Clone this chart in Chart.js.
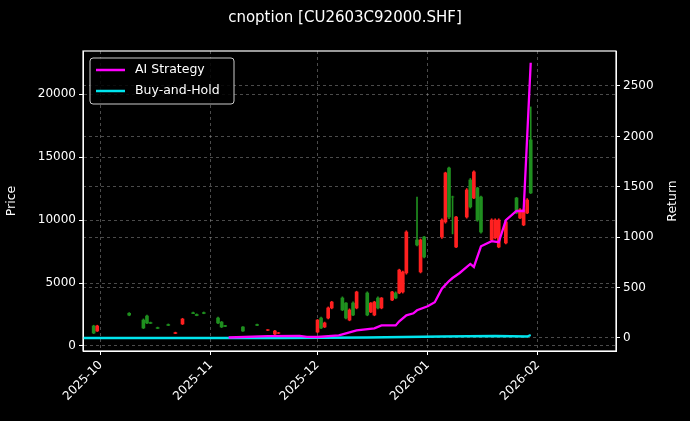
<!DOCTYPE html>
<html><head><meta charset="utf-8">
<script src="https://cdn.jsdelivr.net/npm/chart.js@4.4.1/dist/chart.umd.min.js"></script>
<style>html,body{margin:0;background:#000;}#wrap{width:690px;height:421px;}</style>
</head><body><div id="wrap"><canvas id="c"></canvas></div>
<script>
const candleDates = ["2025-09-29","2025-09-30","2025-10-09","2025-10-13","2025-10-14","2025-10-15","2025-10-17","2025-10-20","2025-10-22","2025-10-24","2025-10-27","2025-10-28","2025-10-30","2025-11-03","2025-11-04","2025-11-05","2025-11-10","2025-11-14","2025-11-17","2025-11-19","2025-11-20","2025-12-01","2025-12-02","2025-12-03","2025-12-04","2025-12-05","2025-12-08","2025-12-09","2025-12-10","2025-12-11","2025-12-12","2025-12-15","2025-12-16","2025-12-17","2025-12-18","2025-12-19","2025-12-22","2025-12-23","2025-12-24","2025-12-25","2025-12-26","2025-12-29","2025-12-30","2025-12-31","2026-01-05","2026-01-06","2026-01-07","2026-01-08","2026-01-09","2026-01-12","2026-01-13","2026-01-14","2026-01-15","2026-01-16","2026-01-19","2026-01-20","2026-01-21","2026-01-23","2026-01-26","2026-01-27","2026-01-28","2026-01-29","2026-01-30"];
const opens  = [1030,1590,2450,1430,1830,1800,1400,1640,1060,2140,2580,2420,2590,1830,1510,1560,1190,1640,1290,1190,1050,2060,1430,1830,3020,3490,2860,2220,2860,2460,4290,2460,3410,3490,3020,3810,4290,3810,6030,5880,9050,8020,8420,7070,10000,13740,10240,11830,10240,12390,11040,13820,10000,9050,10000,10000,10000,9850,10560,10800,10800,11590,12150];
const closes = [1590,1190,2600,2060,2380,1860,1460,1700,1000,1750,2640,2500,2650,2220,1900,1620,1510,1700,1250,950,1010,1110,2220,1510,2220,3020,3810,3410,2060,3410,3020,4210,2700,2460,3810,3020,3650,4210,4210,4290,5800,8420,5880,8650,8650,9850,14130,11830,7860,10240,13180,11750,12550,11830,8420,8580,7860,8180,11750,10160,9610,10560,16360];
const highs  = [1650,1650,2650,2150,2450,1900,1500,1750,1100,2200,2700,2550,2700,2300,1950,1650,1550,1750,1300,1250,1080,2100,2300,1900,3100,3550,3900,3450,2950,3500,4350,4300,3450,3550,3900,3850,4350,4300,6100,5950,9150,11830,8500,8700,10100,13800,14200,11900,10300,12500,13300,13900,12600,11900,10100,10100,10100,9950,11800,10900,10900,11700,18980];
const lows   = [980,1150,2400,1380,1780,1780,1380,1620,980,1700,2560,2400,2560,1780,1460,1540,1150,1620,1220,900,980,1050,1380,1460,2150,2950,2800,2150,2000,2400,2950,2400,2650,2400,2950,2950,3600,3750,4150,4200,5700,7950,5800,7000,8550,9750,10100,8900,7800,10150,10950,11700,9900,8950,8350,8500,7800,8100,10500,10100,9550,10500,12100];
const stratDates = ["2025-11-06","2025-11-17","2025-11-26","2025-11-28","2025-12-01","2025-12-07","2025-12-10","2025-12-12","2025-12-17","2025-12-19","2025-12-23","2025-12-24","2025-12-26","2025-12-28","2025-12-29","2026-01-01","2026-01-03","2026-01-05","2026-01-07","2026-01-08","2026-01-10","2026-01-13","2026-01-14","2026-01-16","2026-01-19","2026-01-21","2026-01-23","2026-01-26","2026-01-28","2026-01-30"];
const stratReturns = [5,18,22,12,10,25,55,75,95,125,125,165,225,245,275,315,355,490,565,595,645,735,705,910,960,950,1170,1260,1260,2730];
const bhDates = ["2025-09-26","2025-11-20","2025-12-15","2026-01-05","2026-01-20","2026-01-29","2026-01-30"];
const bhReturns = [0,0,5,15,20,15,30];
const monthTicks = ["2025-10-01","2025-11-01","2025-12-01","2026-01-01","2026-02-01"];
const xMinDate = "2025-09-26", xMaxDate = "2026-02-23";

const t = s => Date.parse(s + "T00:00:00Z");
const up = i => closes[i] >= opens[i];
const colors = candleDates.map((d,i)=> up(i) ? '#1f8f1f' : '#ff2020');
const bodies = candleDates.map((d,i)=>({x:t(d), y:[opens[i], closes[i]]}));
const wicks = candleDates.map((d,i)=>({x:t(d), y:[lows[i], highs[i]]}));
const FONT = "'DejaVu Sans', sans-serif";
const grid = {color:'rgba(150,150,150,0.5)', tickColor:'#fff', tickLength:4, drawTicks:true, offset:false};
const border = {color:'#fff', dash:[3,3]};

const deco = {
  id:'deco',
  afterDraw(ch){
    const c = ch.ctx, a = ch.chartArea;
    c.save();
    c.strokeStyle='#fff'; c.lineWidth=1.2; c.setLineDash([]);
    c.strokeRect(a.left, a.top, a.right-a.left, a.bottom-a.top);
    c.fillStyle='#fff'; c.font="15px "+FONT; c.textAlign='center'; c.textBaseline='middle';
    c.fillText('cnoption [CU2603C92000.SHF]', 345, 18);
    c.save(); c.translate(673, (a.top+a.bottom)/2); c.rotate(-Math.PI/2);
    c.font="12.5px "+FONT; c.fillText('Return', 0, 0); c.restore();
    const lx=a.left+7, ly=a.top+7;
    c.fillStyle='rgba(0,0,0,0.85)'; c.strokeStyle='#ccc'; c.lineWidth=1;
    c.beginPath(); c.roundRect(lx, ly, 144, 46, 3); c.fill(); c.stroke();
    c.lineWidth=2.5;
    c.strokeStyle='#ff00ff'; c.beginPath(); c.moveTo(lx+6, ly+12); c.lineTo(lx+35, ly+12); c.stroke();
    c.strokeStyle='#00e5ee'; c.beginPath(); c.moveTo(lx+6, ly+33); c.lineTo(lx+35, ly+33); c.stroke();
    c.fillStyle='#fff'; c.font="12.5px "+FONT; c.textAlign='left';
    c.fillText('AI Strategy', lx+45, ly+12);
    c.fillText('Buy-and-Hold', lx+45, ly+33);
    c.restore();
  }
};

new Chart(document.getElementById('c'), {
  type:'bar',
  data:{datasets:[
    {type:'line', label:'AI Strategy', data:stratDates.map((d,i)=>({x:t(d), y:stratReturns[i]})), yAxisID:'y1', borderColor:'#ff00ff', borderWidth:2.3, pointRadius:0, order:0},
    {type:'line', label:'Buy-and-Hold', data:bhDates.map((d,i)=>({x:t(d), y:bhReturns[i]})), yAxisID:'y1', borderColor:'#00e5ee', borderWidth:2.3, pointRadius:0, order:0},
    {label:'body', data:bodies, yAxisID:'y', backgroundColor:colors, barThickness:3, grouped:false, order:2},
    {label:'wick', data:wicks, yAxisID:'y', backgroundColor:colors, barThickness:1, grouped:false, order:3}
  ]},
  options:{
    responsive:true, maintainAspectRatio:false, animation:false,
    layout:{padding:{top:51}},
    plugins:{legend:{display:false}, tooltip:{enabled:false}},
    scales:{
      x:{type:'linear', min:t(xMinDate), max:t(xMaxDate), offset:false,
        afterBuildTicks: s => { s.ticks = monthTicks.map(m=>({value:t(m)})); },
        afterFit: s => { s.height = 70; },
        ticks:{color:'#fff', font:{family:FONT, size:12}, maxRotation:45, minRotation:45, autoSkip:false,
          callback: v => { const d=new Date(v); return d.getUTCFullYear()+'-'+String(d.getUTCMonth()+1).padStart(2,'0'); }},
        grid:grid, border:border},
      y:{position:'left', min:-397, max:23420,
        afterBuildTicks: s => { s.ticks=[0,5000,10000,15000,20000].map(v=>({value:v})); },
        afterFit: s => { s.width = 83; },
        ticks:{color:'#fff', font:{family:FONT, size:12}, callback:v=>String(v)},
        title:{display:true, text:'Price', color:'#fff', font:{family:FONT, size:12.5}},
        grid:grid, border:border},
      y1:{position:'right', min:-129, max:2847,
        afterBuildTicks: s => { s.ticks=[0,500,1000,1500,2000,2500].map(v=>({value:v})); },
        afterFit: s => { s.width = 74; },
        ticks:{color:'#fff', font:{family:FONT, size:12}, callback:v=>String(v)},
        grid:grid, border:border}
    }
  },
  plugins:[deco]
});
</script></body></html>
